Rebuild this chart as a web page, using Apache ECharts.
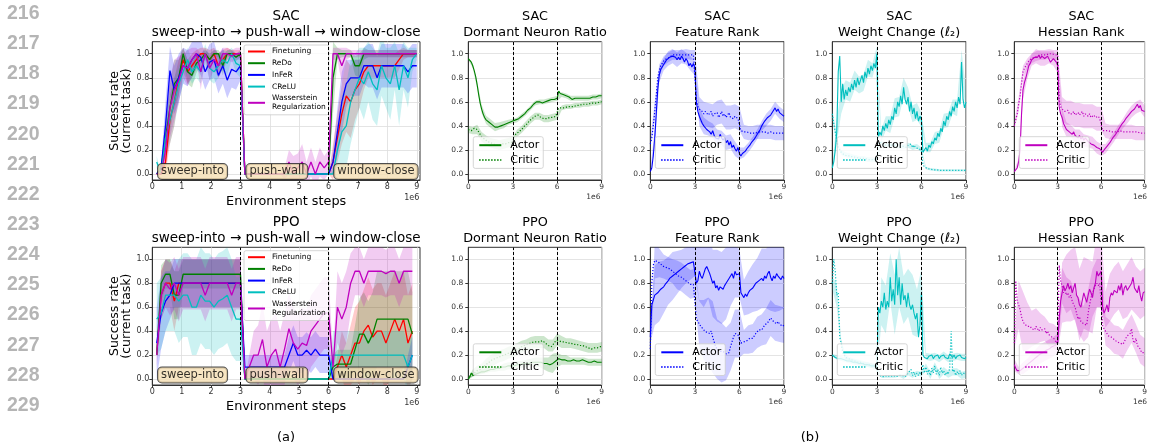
<!DOCTYPE html>
<html>
<head>
<meta charset="utf-8">
<script src="https://cdn.jsdelivr.net/npm/echarts@6/dist/echarts.min.js"></script>
<style>
html,body{margin:0;padding:0;background:#fff;}
#chart{width:1150px;height:444px;}
</style>
</head>
<body>
<div id="chart"></div>
<script>
// ---------------- data ----------------
// Success rate on the current task; SAC points every 0.15e6 steps from 0.15e6 to 9.0e6.
const SUCCESS_STEP = 0.15;
const SAC_FINETUNE = [0,0,0.1,0.45,0.6,0.8,0.95,0.85,0.9,0.95, 1,1,0.95,1,0.9,0.95,1,1,1,1,
  0,0,0,0,0,0,0,0,0,0, 0,0,0,0,0,0,0,0,0,0,
  0.1,0.3,0.5,0.65,0.6,0.7,0.75,0.85,0.9,0.9, 0.9,0.9,0.9,0.9,0.9,0.95,1,1,1,1];
const SAC_REDO = [0,0.05,0.3,0.55,0.75,0.8,1,0.85,0.82,0.92, 0.95,1,0.95,1,1,0.9,1,1,0.97,1,
  0,0,0,0,0,0,0,0,0,0, 0,0,0,0,0,0,0,0,0,0,
  0.8,1,1,1,1,0.9,0.9,1,1,1, 1,1,1,1,1,1,1,1,1,1];
const SAC_INFER = [0,0.05,0.4,0.86,0.7,0.8,0.9,0.88,0.95,1, 0.97,0.85,0.93,0.95,0.82,0.9,0.78,0.87,0.85,0.9,
  0,0,0,0,0,0,0,0,0,0, 0,0,0,0,0,0,0,0,0,0,
  0.1,0.35,0.6,0.75,0.8,0.8,0.8,0.9,0.9,0.9, 0.8,0.9,0.9,0.9,0.9,0.9,0.9,0.85,0.9,0.9];
const SAC_CRELU = [0.1,0,0.3,0.45,0.6,0.75,0.85,0.95,0.85,0.9, 0.85,1,0.88,0.85,0.9,0.95,0.92,1,0.92,0.9,
  0,0,0,0,0,0,0,0,0,0, 0,0,0,0,0,0,0,0,0,0,
  0,0.2,0.35,0.4,0.6,0.7,0.8,0.75,0.85,0.75, 0.7,0.9,0.8,0.75,0.9,0.7,0.9,0.8,0.95,1];
const SAC_WASS = [0,0,0.2,0.55,0.7,0.78,0.9,0.88,0.95,1, 0.85,1,0.88,0.95,0.9,1,1,0.98,1,1,
  0,0,0,0,0,0,0,0,0,0, 0.1,0,0.05,0.1,0,0.1,0,0.1,0.05,0.1,
  1,1,0.9,1,1,1,1,1,1,1, 1,1,1,1,1,1,1,1,1,1];
const SAC_FINETUNE_SD = [0,0,0.1,0.2,0.2,0.15,0.1,0.1,0.1,0.08, 0.05,0.05,0.08,0.05,0.1,0.08,0.05,0.03,0.03,0.03,
  0,0,0,0,0,0,0,0,0,0, 0,0,0,0,0,0,0,0,0,0,
  0.15,0.2,0.25,0.3,0.3,0.25,0.2,0.15,0.1,0.1, 0.1,0.1,0.1,0.1,0.1,0.08,0.05,0.03,0.03,0.03];
const SAC_REDO_SD = [0,0.05,0.15,0.2,0.2,0.15,0.05,0.1,0.1,0.08, 0.05,0.03,0.05,0.03,0.03,0.08,0.03,0.03,0.03,0.03,
  0,0,0,0,0,0,0,0,0,0, 0,0,0,0,0,0,0,0,0,0,
  0.3,0.05,0.03,0.03,0.03,0.08,0.1,0.05,0.03,0.03, 0.03,0.03,0.03,0.03,0.03,0.03,0.03,0.03,0.03,0.03];
const SAC_INFER_SD = [0,0.05,0.2,0.2,0.2,0.2,0.15,0.15,0.15,0.12, 0.15,0.15,0.15,0.15,0.15,0.15,0.15,0.15,0.15,0.12,
  0,0,0,0,0,0,0,0,0,0, 0,0,0,0,0,0,0,0,0,0,
  0.1,0.2,0.25,0.2,0.15,0.15,0.15,0.15,0.18,0.18, 0.18,0.18,0.18,0.18,0.18,0.18,0.18,0.18,0.18,0.18];
const SAC_CRELU_SD = [0.05,0,0.15,0.2,0.2,0.15,0.1,0.1,0.1,0.1, 0.1,0.08,0.1,0.1,0.1,0.08,0.1,0.05,0.08,0.1,
  0,0,0,0,0,0,0,0,0,0, 0,0,0,0,0,0,0,0,0,0,
  0,0.15,0.3,0.35,0.35,0.3,0.25,0.3,0.25,0.3, 0.3,0.25,0.25,0.3,0.2,0.3,0.2,0.25,0.1,0.05];
const SAC_WASS_SD = [0,0,0.15,0.25,0.25,0.2,0.1,0.15,0.1,0.05, 0.15,0.05,0.1,0.08,0.1,0.05,0.05,0.05,0.05,0.05,
  0,0,0,0,0,0,0,0,0,0.05, 0.1,0.15,0.12,0.15,0.1,0.12,0.1,0.12,0.1,0.1,
  0.05,0.05,0.15,0.05,0.03,0.03,0.03,0.03,0.03,0.03, 0.03,0.03,0.03,0.03,0.03,0.03,0.03,0.03,0.03,0.03];

// PPO points every 0.15e6 steps from 0.15e6 to 8.85e6.
const PPO_FINETUNE = [0.2,0.7,0.8,0.8,0.65,0.8,0.8,0.8,0.8,0.8, 0.8,0.8,0.8,0.8,0.8,0.8,0.8,0.8,0.8,0.8,
  0,0,0,0,0,0,0,0,0,0, 0,0,0,0,0,0,0,0,0,0,
  0,0.1,0.2,0.1,0.2,0.3,0.3,0.4,0.45,0.35, 0.4,0.4,0.3,0.4,0.5,0.4,0.5,0.3,0.4];
const PPO_REDO = [0.2,0.8,0.875,0.875,0.7,0.7,0.875,0.875,0.875,0.875, 0.875,0.875,0.875,0.875,0.875,0.875,0.875,0.875,0.875,0.875,
  0,0,0,0,0,0,0,0,0,0, 0,0,0,0,0,0,0,0,0,0,
  0.1,0.125,0.125,0.125,0.125,0.25,0.375,0.375,0.3,0.375, 0.5,0.5,0.5,0.5,0.5,0.5,0.5,0.5,0.375];
const PPO_INFER = [0.3,0.55,0.65,0.7,0.8,0.8,0.8,0.8,0.8,0.8, 0.8,0.8,0.8,0.8,0.8,0.8,0.8,0.8,0.8,0.8,
  0.1,0.1,0.1,0.1,0.1,0.1,0.1,0.1,0.1,0.1, 0.2,0.3,0.2,0.2,0.24,0.2,0.25,0.2,0.2,0.2,
  0,0,0,0,0,0,0,0,0,0, 0,0,0,0,0,0,0,0.1,0.2];
const PPO_CRELU = [0.5,0.55,0.7,0.7,0.7,0.65,0.7,0.7,0.6,0.6, 0.7,0.65,0.65,0.6,0.65,0.67,0.7,0.6,0.5,0.5,
  0,0,0,0,0,0,0,0,0,0, 0,0,0,0,0,0,0,0,0,0,
  0.2,0.2,0.2,0.2,0.2,0.2,0.2,0.2,0.2,0.2, 0.2,0.2,0.2,0.2,0.2,0.2,0.2,0.1,0.2];
const PPO_WASS = [0.2,0.7,0.8,0.75,0.8,0.7,0.8,0.8,0.8,0.8, 0.8,0.7,0.8,0.8,0.8,0.8,0.8,0.7,0.8,0.8,
  0,0.1,0.2,0.2,0.33,0.1,0.2,0.25,0.1,0.25, 0.42,0.3,0.25,0.3,0.28,0.4,0.45,0.5,0.55,0.55,
  0.1,0.6,0.5,0.6,0.8,0.9,0.9,0.8,0.9,0.9, 0.9,0.9,0.88,0.9,0.9,0.8,0.9,0.9,0.9];
const PPO_FINETUNE_SD = [0,0.2,0.2,0.2,0.25,0.2,0.2,0.2,0.2,0.2, 0.2,0.2,0.2,0.2,0.2,0.2,0.2,0.2,0.2,0.2,
  0,0,0,0,0,0,0,0,0,0, 0,0,0,0,0,0,0,0,0,0,
  0,0.1,0.2,0.2,0.25,0.3,0.35,0.35,0.4,0.4, 0.4,0.4,0.4,0.4,0.4,0.4,0.4,0.4,0.4];
const PPO_REDO_SD = [0,0.15,0.12,0.12,0.2,0.2,0.12,0.12,0.12,0.12, 0.12,0.12,0.12,0.12,0.12,0.12,0.12,0.12,0.12,0.12,
  0,0,0,0,0,0,0,0,0,0, 0,0,0,0,0,0,0,0,0,0,
  0.1,0.12,0.12,0.12,0.12,0.2,0.3,0.35,0.35,0.35, 0.4,0.4,0.4,0.4,0.4,0.4,0.4,0.4,0.35];
const PPO_INFER_SD = [0.3,0.3,0.25,0.2,0.2,0.2,0.2,0.2,0.2,0.2, 0.2,0.2,0.2,0.2,0.2,0.2,0.2,0.2,0.2,0.2,
  0.1,0.1,0.1,0.1,0.1,0.1,0.1,0.1,0.1,0.1, 0.15,0.15,0.15,0.15,0.15,0.15,0.15,0.15,0.15,0.15,
  0,0,0,0,0,0,0,0,0,0, 0,0,0,0,0,0,0,0.1,0.15];
const PPO_CRELU_SD = [0.3,0.3,0.3,0.3,0.3,0.35,0.35,0.35,0.4,0.4, 0.4,0.4,0.4,0.4,0.4,0.4,0.4,0.4,0.35,0.35,
  0,0,0,0,0,0,0,0,0,0, 0,0,0,0,0,0,0,0,0,0,
  0.2,0.2,0.2,0.2,0.2,0.2,0.2,0.2,0.2,0.2, 0.2,0.2,0.2,0.2,0.2,0.2,0.2,0.2,0.2];
const PPO_WASS_SD = [0.1,0.2,0.2,0.22,0.22,0.22,0.22,0.22,0.22,0.22, 0.22,0.22,0.22,0.22,0.22,0.22,0.22,0.22,0.22,0.22,
  0,0.1,0.2,0.25,0.3,0.3,0.3,0.3,0.3,0.3, 0.3,0.3,0.3,0.3,0.3,0.3,0.3,0.3,0.3,0.3,
  0.1,0.3,0.3,0.3,0.25,0.2,0.2,0.2,0.2,0.2, 0.2,0.2,0.2,0.2,0.2,0.2,0.2,0.2,0.2];

// Normalised network metrics; points every 0.1e6 steps from 0 to 9e6.
// Spreads are given every 0.3e6 steps.
const METRIC_STEP = 0.1;
const SPREAD_EVERY = 3;

const SAC_DORMANT_ACTOR = [0.96,0.95,0.93,0.90,0.86,0.81,0.74,0.66,0.59,0.54,
  0.50,0.47,0.45,0.44,0.43,0.42,0.41,0.40,0.39,0.39, 0.39,0.40,0.40,0.41,0.41,0.42,0.42,0.43,0.43,0.44,
  0.44,0.44,0.45,0.45,0.46,0.47,0.48,0.49,0.50,0.51, 0.53,0.54,0.55,0.56,0.58,0.59,0.60,0.60,0.60,0.60,
  0.59,0.60,0.60,0.61,0.61,0.61,0.62,0.62,0.62,0.63, 0.63,0.69,0.67,0.66,0.66,0.65,0.65,0.64,0.64,0.63,
  0.62,0.62,0.63,0.63,0.63,0.63,0.63,0.63,0.63,0.63, 0.63,0.63,0.63,0.63,0.64,0.64,0.64,0.64,0.65,0.65, 0.65];
const SAC_DORMANT_CRITIC = [0.37,0.37,0.36,0.36,0.38,0.39,0.37,0.35,0.33,0.31,
  0.30,0.29,0.28,0.27,0.27,0.26,0.25,0.25,0.25,0.24, 0.24,0.24,0.24,0.25,0.25,0.25,0.25,0.26,0.26,0.26,
  0.27,0.31,0.33,0.34,0.35,0.36,0.37,0.38,0.40,0.41, 0.42,0.44,0.45,0.46,0.47,0.48,0.49,0.49,0.48,0.47,
  0.47,0.46,0.46,0.46,0.46,0.47,0.47,0.47,0.48,0.48, 0.48,0.55,0.55,0.55,0.55,0.55,0.56,0.56,0.56,0.56,
  0.56,0.56,0.57,0.57,0.57,0.57,0.57,0.58,0.58,0.58, 0.58,0.58,0.59,0.59,0.59,0.59,0.59,0.59,0.60,0.60, 0.60];
const SAC_DORMANT_ACTOR_SD = [0.01,0.02,0.03,0.035,0.035,0.035,0.035,0.03,0.03,0.02,0.02,
  0.02,0.02,0.02,0.02,0.02,0.02,0.02,0.02,0.02,0.02, 0.02,0.02,0.02,0.02,0.02,0.02,0.02,0.02,0.02,0.02];
const SAC_DORMANT_CRITIC_SD = [0.03,0.03,0.04,0.04,0.04,0.04,0.04,0.04,0.04,0.04,0.04,
  0.03,0.03,0.03,0.03,0.03,0.03,0.03,0.03,0.03,0.03, 0.02,0.02,0.02,0.02,0.02,0.02,0.02,0.02,0.02,0.02];

const SAC_FEATURE_ACTOR = [0.02,0.05,0.15,0.30,0.50,0.70,0.82,0.87,0.89,0.91,
  0.93,0.95,0.96,0.97,0.96,0.98,0.99,0.97,0.95,0.97, 0.95,0.98,0.96,0.93,0.96,0.94,0.90,0.92,0.89,0.92,
  0.88,0.60,0.52,0.48,0.45,0.42,0.40,0.41,0.37,0.38, 0.35,0.33,0.36,0.32,0.30,0.31,0.29,0.33,0.30,0.28,
  0.30,0.26,0.28,0.24,0.27,0.22,0.24,0.21,0.19,0.22, 0.17,0.15,0.17,0.18,0.19,0.21,0.22,0.24,0.26,0.27,
  0.29,0.31,0.33,0.35,0.37,0.40,0.41,0.44,0.45,0.47, 0.46,0.49,0.50,0.53,0.55,0.52,0.54,0.51,0.50,0.49, 0.48];
const SAC_FEATURE_CRITIC = [0.25,0.30,0.40,0.52,0.65,0.80,0.86,0.90,0.92,0.94,
  0.95,0.96,0.97,0.97,0.98,0.99,1.00,0.99,0.99,0.99, 0.99,0.99,0.99,0.99,1.00,0.99,0.99,0.99,0.99,0.99,
  0.99,0.62,0.56,0.54,0.53,0.52,0.50,0.52,0.51,0.49, 0.50,0.52,0.48,0.50,0.49,0.51,0.47,0.49,0.52,0.48,
  0.50,0.47,0.49,0.51,0.47,0.48,0.46,0.48,0.47,0.46, 0.46,0.36,0.35,0.35,0.34,0.35,0.34,0.34,0.35,0.34,
  0.34,0.34,0.35,0.35,0.35,0.35,0.35,0.35,0.35,0.34, 0.35,0.35,0.34,0.34,0.34,0.34,0.34,0.34,0.34,0.34, 0.34];
const SAC_FEATURE_ACTOR_SD = [0.01,0.08,0.06,0.05,0.06,0.06,0.06,0.06,0.05,0.06,0.06,
  0.08,0.07,0.06,0.06,0.06,0.06,0.06,0.06,0.06,0.05, 0.04,0.04,0.04,0.04,0.04,0.05,0.05,0.05,0.05,0.05];
const SAC_FEATURE_CRITIC_SD = [0.03,0.08,0.05,0.04,0.04,0.04,0.04,0.04,0.04,0.04,0.04,
  0.1,0.1,0.1,0.1,0.1,0.1,0.1,0.1,0.1,0.1, 0.06,0.06,0.06,0.06,0.06,0.06,0.06,0.06,0.06,0.06];

const SAC_WEIGHT_ACTOR = [0.05,0.10,0.20,0.35,0.85,0.98,0.60,0.75,0.62,0.70,
  0.65,0.72,0.68,0.75,0.70,0.78,0.72,0.80,0.74,0.78, 0.82,0.76,0.85,0.80,0.88,0.83,0.90,0.86,0.92,0.88,
  1.00,0.30,0.35,0.32,0.40,0.36,0.42,0.38,0.45,0.41, 0.48,0.45,0.55,0.50,0.60,0.56,0.65,0.58,0.72,0.62,
  0.58,0.64,0.52,0.60,0.50,0.55,0.46,0.52,0.44,0.48, 0.45,0.18,0.20,0.22,0.19,0.24,0.22,0.27,0.25,0.30,
  0.28,0.34,0.31,0.38,0.35,0.44,0.40,0.48,0.45,0.52, 0.48,0.56,0.52,0.60,0.55,0.64,0.58,0.93,0.62,0.55, 0.60];
const SAC_WEIGHT_CRITIC = [0.50,0.42,0.35,0.28,0.22,0.20,0.18,0.17,0.16,0.16,
  0.15,0.15,0.15,0.14,0.14,0.14,0.14,0.13,0.13,0.13, 0.13,0.13,0.13,0.12,0.12,0.12,0.12,0.12,0.12,0.12,
  0.12,0.26,0.25,0.26,0.24,0.25,0.24,0.25,0.24,0.24, 0.24,0.23,0.24,0.23,0.24,0.23,0.23,0.24,0.23,0.23,
  0.22,0.24,0.23,0.25,0.22,0.24,0.22,0.23,0.21,0.22, 0.20,0.08,0.06,0.05,0.045,0.04,0.04,0.04,0.035,0.035,
  0.035,0.035,0.03,0.03,0.03,0.03,0.03,0.03,0.03,0.03, 0.03,0.03,0.03,0.03,0.03,0.03,0.03,0.03,0.03,0.03, 0.03];
const SAC_WEIGHT_ACTOR_SD = [0.02,0.1,0.1,0.08,0.08,0.08,0.07,0.07,0.07,0.06,0.06,
  0.05,0.06,0.07,0.08,0.08,0.08,0.08,0.07,0.07,0.06, 0.04,0.04,0.05,0.05,0.06,0.06,0.06,0.07,0.1,0.1];
const SAC_WEIGHT_CRITIC_SD = [0.05,0.03,0.02,0.02,0.02,0.02,0.02,0.02,0.02,0.02,0.02,
  0.02,0.02,0.02,0.02,0.02,0.02,0.02,0.02,0.02,0.02, 0.01,0.01,0.01,0.01,0.01,0.01,0.01,0.01,0.01,0.01];

const SAC_HESSIAN_ACTOR = [0.02,0.03,0.05,0.10,0.20,0.50,0.70,0.76,0.80,0.85,
  0.90,0.92,0.95,0.96,0.97,0.98,0.97,0.99,0.96,0.98, 0.99,0.96,0.95,0.98,0.97,0.93,0.92,0.96,0.97,0.93,
  0.90,0.56,0.50,0.47,0.42,0.41,0.37,0.38,0.35,0.36, 0.33,0.35,0.32,0.33,0.30,0.32,0.29,0.31,0.28,0.30,
  0.29,0.27,0.28,0.25,0.26,0.24,0.25,0.22,0.23,0.21, 0.20,0.18,0.20,0.21,0.23,0.24,0.26,0.27,0.30,0.31,
  0.33,0.34,0.37,0.38,0.41,0.42,0.44,0.46,0.47,0.49, 0.50,0.52,0.51,0.54,0.55,0.58,0.55,0.57,0.53,0.52, 0.52];
const SAC_HESSIAN_CRITIC = [0.40,0.45,0.50,0.58,0.65,0.75,0.85,0.88,0.90,0.92,
  0.94,0.95,0.96,0.97,0.97,0.98,0.98,0.98,0.99,0.99, 0.99,0.99,0.99,1.00,1.00,0.99,1.00,0.99,0.99,0.99,
  0.99,0.62,0.56,0.54,0.53,0.52,0.51,0.53,0.50,0.51, 0.50,0.52,0.49,0.50,0.51,0.49,0.50,0.52,0.48,0.50,
  0.49,0.48,0.50,0.47,0.48,0.49,0.47,0.46,0.48,0.46, 0.46,0.36,0.35,0.36,0.35,0.36,0.35,0.35,0.36,0.35,
  0.36,0.35,0.35,0.36,0.35,0.35,0.36,0.35,0.35,0.35, 0.35,0.35,0.34,0.35,0.34,0.35,0.34,0.34,0.34,0.34, 0.34];
const SAC_HESSIAN_ACTOR_SD = [0.01,0.03,0.08,0.06,0.05,0.06,0.06,0.06,0.05,0.06,0.06,
  0.08,0.06,0.05,0.05,0.05,0.05,0.05,0.05,0.05,0.05, 0.04,0.04,0.04,0.04,0.04,0.05,0.05,0.05,0.05,0.05];
const SAC_HESSIAN_CRITIC_SD = [0.03,0.06,0.05,0.04,0.04,0.04,0.04,0.04,0.04,0.04,0.04,
  0.1,0.1,0.1,0.1,0.1,0.1,0.1,0.1,0.1,0.1, 0.06,0.06,0.06,0.06,0.06,0.06,0.06,0.06,0.06,0.06];

const PPO_DORMANT_ACTOR = [0.00,0.02,0.05,0.03,0.04,0.04,0.05,0.05,0.05,0.06,
  0.06,0.06,0.07,0.07,0.07,0.08,0.08,0.08,0.08,0.09, 0.09,0.09,0.09,0.10,0.10,0.10,0.10,0.11,0.11,0.11,
  0.11,0.11,0.12,0.12,0.12,0.12,0.12,0.13,0.13,0.13, 0.13,0.13,0.14,0.14,0.14,0.14,0.14,0.14,0.14,0.14,
  0.13,0.13,0.14,0.13,0.12,0.12,0.13,0.13,0.14,0.15, 0.16,0.17,0.16,0.16,0.15,0.16,0.16,0.15,0.16,0.15,
  0.15,0.16,0.15,0.15,0.16,0.15,0.15,0.16,0.15,0.15, 0.14,0.14,0.15,0.14,0.14,0.15,0.14,0.14,0.15,0.14, 0.14];
const PPO_DORMANT_CRITIC = [0.00,0.02,0.04,0.05,0.05,0.06,0.07,0.07,0.08,0.09,
  0.10,0.11,0.12,0.13,0.14,0.15,0.16,0.16,0.17,0.18, 0.18,0.19,0.19,0.20,0.20,0.21,0.21,0.22,0.22,0.23,
  0.23,0.24,0.24,0.25,0.25,0.26,0.27,0.27,0.28,0.28, 0.29,0.29,0.30,0.30,0.31,0.31,0.31,0.32,0.31,0.32,
  0.32,0.31,0.30,0.29,0.28,0.27,0.27,0.28,0.30,0.32, 0.33,0.32,0.32,0.31,0.31,0.31,0.30,0.30,0.30,0.30,
  0.30,0.29,0.29,0.29,0.28,0.28,0.28,0.28,0.27,0.27, 0.27,0.26,0.25,0.25,0.26,0.26,0.26,0.26,0.27,0.27, 0.27];
const PPO_DORMANT_ACTOR_SD = [0.005,0.01,0.01,0.02,0.02,0.02,0.02,0.02,0.03,0.03,0.03,
  0.03,0.03,0.03,0.03,0.04,0.04,0.05,0.06,0.08,0.06, 0.04,0.04,0.03,0.03,0.03,0.03,0.03,0.03,0.03,0.03];
const PPO_DORMANT_CRITIC_SD = [0.005,0.03,0.04,0.04,0.05,0.05,0.05,0.05,0.05,0.05,0.05,
  0.05,0.05,0.05,0.05,0.05,0.05,0.05,0.05,0.05,0.05, 0.05,0.04,0.04,0.04,0.04,0.04,0.04,0.04,0.04,0.04];

const PPO_FEATURE_ACTOR = [0.35,0.62,0.66,0.70,0.69,0.72,0.73,0.75,0.76,0.77,
  0.79,0.80,0.82,0.84,0.85,0.86,0.87,0.88,0.89,0.90, 0.91,0.92,0.93,0.94,0.95,0.96,0.96,0.97,0.97,0.98,
  0.98,0.80,0.82,0.90,0.86,0.84,0.88,0.92,0.94,0.95, 0.88,0.84,0.80,0.82,0.76,0.78,0.74,0.77,0.76,0.75,
  0.78,0.80,0.79,0.84,0.86,0.88,0.84,0.90,0.87,0.86, 0.88,0.72,0.70,0.68,0.71,0.69,0.72,0.74,0.73,0.76,
  0.78,0.80,0.79,0.82,0.81,0.84,0.82,0.86,0.84,0.88, 0.90,0.85,0.82,0.86,0.84,0.88,0.86,0.85,0.83,0.86, 0.84];
const PPO_FEATURE_CRITIC = [0.25,0.80,0.95,0.99,1.00,0.98,0.97,0.96,0.95,0.94,
  0.94,0.93,0.92,0.92,0.91,0.90,0.89,0.88,0.87,0.86, 0.86,0.85,0.84,0.83,0.82,0.81,0.80,0.79,0.78,0.79,
  0.80,0.50,0.48,0.46,0.44,0.43,0.41,0.40,0.39,0.40, 0.38,0.40,0.35,0.31,0.27,0.25,0.24,0.23,0.22,0.23,
  0.22,0.21,0.20,0.22,0.27,0.31,0.35,0.38,0.38,0.37, 0.38,0.30,0.29,0.31,0.30,0.32,0.33,0.34,0.35,0.34,
  0.36,0.38,0.39,0.41,0.42,0.41,0.43,0.45,0.44,0.47, 0.49,0.51,0.50,0.48,0.47,0.46,0.48,0.46,0.45,0.44, 0.45];
const PPO_FEATURE_ACTOR_SD = [0.05,0.25,0.25,0.22,0.2,0.2,0.18,0.16,0.15,0.14,0.12,
  0.25,0.28,0.28,0.28,0.3,0.3,0.3,0.25,0.22,0.2, 0.15,0.18,0.2,0.22,0.25,0.25,0.28,0.28,0.28,0.25];
const PPO_FEATURE_CRITIC_SD = [0.05,0.15,0.12,0.1,0.1,0.1,0.12,0.12,0.12,0.12,0.12,
  0.2,0.25,0.28,0.3,0.25,0.25,0.22,0.2,0.2,0.2, 0.1,0.12,0.12,0.13,0.13,0.15,0.15,0.15,0.15,0.15];

const PPO_WEIGHT_ACTOR = [0.20,0.19,0.18,0.18,0.17,0.17,0.17,0.16,0.16,0.16,
  0.15,0.15,0.15,0.14,0.14,0.14,0.14,0.13,0.13,0.13, 0.13,0.12,0.12,0.12,0.12,0.11,0.11,0.11,0.11,0.11,
  0.10,0.60,0.55,0.65,0.60,0.72,0.58,0.65,0.60,0.85, 0.65,0.75,0.62,1.00,0.70,0.85,0.62,0.80,0.66,0.70,
  0.60,0.72,0.62,0.58,0.62,0.55,0.50,0.55,0.35,0.45, 0.72,0.20,0.18,0.19,0.17,0.19,0.18,0.20,0.17,0.19,
  0.18,0.20,0.17,0.19,0.18,0.20,0.18,0.19,0.17,0.21, 0.22,0.18,0.20,0.17,0.19,0.18,0.20,0.18,0.19,0.17, 0.18];
const PPO_WEIGHT_CRITIC = [0.80,1.00,0.90,0.70,0.72,0.35,0.30,0.22,0.20,0.18,
  0.17,0.17,0.16,0.16,0.15,0.15,0.15,0.14,0.14,0.14, 0.13,0.13,0.13,0.12,0.12,0.12,0.12,0.11,0.11,0.11,
  0.11,0.04,0.03,0.02,0.03,0.02,0.02,0.03,0.02,0.02, 0.02,0.03,0.02,0.02,0.02,0.03,0.02,0.03,0.02,0.02,
  0.03,0.05,0.04,0.08,0.03,0.06,0.02,0.05,0.03,0.06, 0.04,0.12,0.05,0.10,0.04,0.08,0.03,0.09,0.05,0.11,
  0.04,0.08,0.03,0.10,0.05,0.07,0.03,0.06,0.04,0.09, 0.40,0.06,0.08,0.03,0.06,0.04,0.07,0.03,0.05,0.04, 0.04];
const PPO_WEIGHT_ACTOR_SD = [0.01,0.02,0.02,0.02,0.02,0.02,0.02,0.02,0.02,0.02,0.02,
  0.2,0.2,0.2,0.25,0.25,0.2,0.2,0.25,0.2,0.2, 0.03,0.03,0.03,0.03,0.03,0.03,0.03,0.03,0.03,0.03];
const PPO_WEIGHT_CRITIC_SD = [0.05,0.1,0.03,0.02,0.02,0.02,0.02,0.02,0.02,0.02,0.02,
  0.01,0.01,0.01,0.01,0.01,0.02,0.02,0.02,0.02,0.02, 0.03,0.03,0.03,0.03,0.03,0.03,0.03,0.03,0.03,0.03];

const PPO_HESSIAN_ACTOR = [0.12,0.09,0.07,0.07,0.07,0.08,0.09,0.10,0.11,0.12,
  0.13,0.14,0.15,0.16,0.17,0.18,0.19,0.20,0.21,0.22, 0.22,0.23,0.24,0.25,0.25,0.26,0.27,0.27,0.28,0.28,
  0.30,0.50,0.65,0.72,0.78,0.74,0.76,0.80,0.75,0.78, 0.72,0.76,0.80,0.70,0.68,0.62,0.60,0.66,0.72,0.68,
  0.64,0.70,0.75,0.72,0.68,0.76,0.80,0.90,0.86,0.88, 0.90,0.60,0.55,0.58,0.62,0.56,0.68,0.72,0.70,0.74,
  0.75,0.72,0.78,0.74,0.80,0.70,0.76,0.78,0.74,0.76, 0.75,0.80,0.85,0.76,0.74,0.72,0.78,0.70,0.65,0.72, 0.73];
const PPO_HESSIAN_CRITIC = [0.30,0.82,0.65,0.62,0.58,0.52,0.48,0.46,0.45,0.44,
  0.43,0.44,0.42,0.43,0.41,0.44,0.42,0.40,0.43,0.41, 0.40,0.42,0.38,0.40,0.37,0.38,0.35,0.36,0.33,0.30,
  0.33,0.95,0.82,0.78,0.72,0.74,0.70,0.72,0.68,0.70, 0.65,0.62,0.60,0.55,0.50,0.52,0.48,0.47,0.46,0.45,
  0.45,0.55,0.62,0.68,0.72,0.75,0.78,0.80,0.78,0.80, 0.80,0.44,0.42,0.40,0.38,0.36,0.37,0.35,0.34,0.33,
  0.33,0.31,0.32,0.30,0.30,0.29,0.31,0.34,0.36,0.35, 0.38,0.42,0.32,0.30,0.34,0.28,0.27,0.25,0.22,0.23, 0.22];
const PPO_HESSIAN_ACTOR_SD = [0.05,0.03,0.05,0.05,0.06,0.07,0.08,0.08,0.08,0.08,0.08,
  0.25,0.28,0.3,0.3,0.3,0.3,0.3,0.3,0.3,0.3, 0.15,0.2,0.2,0.2,0.2,0.22,0.22,0.2,0.2,0.2];
const PPO_HESSIAN_CRITIC_SD = [0.05,0.2,0.25,0.2,0.15,0.15,0.12,0.1,0.1,0.1,0.1,
  0.15,0.15,0.12,0.12,0.15,0.15,0.2,0.2,0.2,0.2, 0.12,0.12,0.12,0.12,0.12,0.12,0.12,0.12,0.12,0.12];

// Labels and ticks
const METHOD_NAMES = ['Finetuning', 'ReDo', 'InFeR', 'CReLU', 'Wasserstein\nRegularization'];
const METHOD_COLORS = ['#ff0000', '#008000', '#0000ff', '#00bfbf', '#bf00bf'];
const TASK_NAMES = ['sweep-into', 'push-wall', 'window-close'];
const TASK_SWITCHES = [3, 6];
const Y_TICKS = [0, 0.2, 0.4, 0.6, 0.8, 1.0];
const SUCCESS_X_TICKS = [0, 1, 2, 3, 4, 5, 6, 7, 8, 9];
const LINE_NUMBERS = ['216','217','218','219','220','221','222','223','224','225','226','227','228','229'];

// ---------------- layout ----------------
const FONT = 'DejaVu Sans';
const ROW_TOP = [41.7, 247.3];
const ROW_HEIGHT = [138.3, 137.7];
const COL_LEFT = [152.3, 468.3, 650.3, 832.3, 1014.3];
const COL_WIDTH = [267.7, 133.4, 133.7, 133.7, 134];
const TITLE_Y = [24.2, 230.5];
const METRIC_LEGEND_TOP = [136.7, 343.8];
const SUCCESS_LEGEND_TOP = [45, 250.7];
const TASK_LABEL_X = [1.37, 4.24, 7.61];
const TASK_LABEL_Y = [0.021, 0.033];

const grids = [], xAxes = [], yAxes = [], series = [], legends = [], texts = [];
const LABELS = {};

function rgba(hex, a) {
  const n = parseInt(hex.slice(1), 16);
  return `rgba(${(n >> 16) & 255},${(n >> 8) & 255},${n & 255},${a})`;
}

function text(x, y, str, size, opts) {
  texts.push(Object.assign({
    type: 'text', x: x, y: y, silent: true, z: 100,
    style: Object.assign({
      text: str, fontSize: size, fontFamily: FONT, fill: '#000',
      align: 'center', verticalAlign: 'middle'
    }, (opts && opts.style) || {})
  }, (opts && opts.el) || {}));
}

function addGrid(row, col, success) {
  const gi = grids.length;
  grids.push({
    left: COL_LEFT[col], top: ROW_TOP[row], width: COL_WIDTH[col], height: ROW_HEIGHT[row],
    show: true, borderColor: '#333', borderWidth: 1, backgroundColor: 'transparent'
  });
  const tickFont = success ? 8 : 7.5;
  const xa = {
    gridIndex: gi, type: 'value', min: 0, max: success ? 9.11 : 9, interval: success ? 1 : 3,
    axisLine: { show: true, onZero: false, lineStyle: { color: '#333', width: 1 } },
    axisTick: { show: true, length: 3, lineStyle: { color: '#333' } },
    axisLabel: { fontSize: tickFont, color: '#333', margin: 3, fontFamily: FONT },
    splitLine: { show: true, lineStyle: { color: '#dddddd', width: 0.8 } }
  };
  if (success) {
    xa.axisTick.customValues = SUCCESS_X_TICKS;
    xa.axisLabel.customValues = SUCCESS_X_TICKS;
  }
  xAxes.push(xa);
  yAxes.push({
    gridIndex: gi, type: 'value', min: -0.05, max: 1.1,
    axisLine: { show: true, onZero: false, lineStyle: { color: '#333', width: 1 } },
    axisTick: { show: true, length: 3, customValues: Y_TICKS, lineStyle: { color: '#333' } },
    axisLabel: {
      customValues: Y_TICKS, fontSize: tickFont, color: '#333', fontFamily: FONT,
      margin: success ? 3 : 5, formatter: v => v.toFixed(1)
    },
    splitLine: { show: true, lineStyle: { color: '#dddddd', width: 0.8 } }
  });
  return gi;
}

// shaded mean ± spread region, drawn as one polygon through the axis scales
function addBand(gi, xs, ys, spread, every, color) {
  const pts = spread.map((s, j) => {
    const i = j * every;
    return [xs[i], ys[i] - s, ys[i] + s];
  });
  series.push({
    type: 'custom', xAxisIndex: gi, yAxisIndex: gi, silent: true, clip: true, z: 1,
    data: pts, encode: { x: 0, y: [1, 2] },
    renderItem: function (params, api) {
      if (params.dataIndex !== 0) return null;
      const upper = pts.map(p => api.coord([p[0], p[2]]));
      const lower = pts.map(p => api.coord([p[0], p[1]])).reverse();
      return { type: 'polygon', shape: { points: upper.concat(lower) }, style: { fill: color }, silent: true };
    }
  });
}

function addLine(gi, name, xs, ys, color, dash, width, withSwitches) {
  const s = {
    type: 'line', name: name, xAxisIndex: gi, yAxisIndex: gi,
    data: xs.map((x, i) => [x, ys[i]]),
    showSymbol: false, symbol: 'none', z: 3,
    lineStyle: { color: color, width: width, type: dash },
    itemStyle: { color: color }
  };
  if (withSwitches) {
    s.markLine = {
      silent: true, symbol: 'none', label: { show: false }, animation: false,
      lineStyle: { color: '#000', type: [3, 2], width: 1 },
      data: TASK_SWITCHES.map(v => ({ xAxis: v }))
    };
  }
  series.push(s);
}

function addSuccessPanel(row, key, title, lines, spreads) {
  const gi = addGrid(row, 0, true);
  const xs = lines[0].map((_, i) => +(SUCCESS_STEP * (i + 1)).toFixed(2));
  lines.forEach((ys, k) => addBand(gi, xs, ys, spreads[k], 1, rgba(METHOD_COLORS[k], 0.2)));
  const names = [];
  lines.forEach((ys, k) => {
    const name = key + '-' + k;
    LABELS[name] = METHOD_NAMES[k];
    names.push(name);
    addLine(gi, name, xs, ys, METHOD_COLORS[k], 'solid', 1.3, k === 0);
  });
  // task name tags at the bottom of each phase
  series.push({
    type: 'scatter', xAxisIndex: gi, yAxisIndex: gi, silent: true, z: 6,
    symbolSize: 1, itemStyle: { color: 'rgba(0,0,0,0)' },
    data: TASK_NAMES.map((t, k) => [TASK_LABEL_X[k], TASK_LABEL_Y[row], t]),
    label: {
      show: true, position: 'inside', formatter: p => p.value[2],
      fontSize: 11.5, fontFamily: FONT, color: '#000',
      backgroundColor: '#f5deb3', borderColor: '#222', borderWidth: 1, borderRadius: 4,
      padding: [2, 3, 1, 3]
    }
  });
  legends.push({
    orient: 'vertical', left: 244, top: SUCCESS_LEGEND_TOP[row], data: names,
    formatter: n => LABELS[n], selectedMode: false,
    backgroundColor: 'rgba(255,255,255,0.8)', borderColor: '#cccccc', borderWidth: 0.8, borderRadius: 2,
    padding: [2, 3, 3, 3], itemGap: 2.7, itemWidth: 17, itemHeight: 6,
    itemStyle: { opacity: 0 },
    textStyle: { fontSize: 7.5, lineHeight: 9, fontFamily: FONT, color: '#000', padding: [0, 0, 0, 2] }
  });
  const cx = COL_LEFT[0] + COL_WIDTH[0] / 2;
  const bottom = ROW_TOP[row] + ROW_HEIGHT[row];
  text(cx, TITLE_Y[row], title, 13.5, { style: { lineHeight: 16 } });
  text(cx, bottom + 21.5, 'Environment steps', 12.8);
  text(COL_LEFT[0] + COL_WIDTH[0] - 8.3, bottom + 17.8, '1e6', 8, { style: { fill: '#333' } });
  text(121, ROW_TOP[row] + ROW_HEIGHT[row] / 2, 'Success rate\n(current task)', 12.5,
    { style: { lineHeight: 12 }, el: { rotation: Math.PI / 2 } });
}

function addMetricPanel(p) {
  const gi = addGrid(p.row, p.col, false);
  const xs = p.actor.map((_, i) => +(i * METRIC_STEP).toFixed(2));
  addBand(gi, xs, p.actor, p.actorSpread, SPREAD_EVERY, rgba(p.color, 0.2));
  addBand(gi, xs, p.critic, p.criticSpread, SPREAD_EVERY, rgba(p.color, 0.2));
  const an = p.key + '-actor', cn = p.key + '-critic';
  LABELS[an] = 'Actor';
  LABELS[cn] = 'Critic';
  addLine(gi, an, xs, p.actor, p.color, 'solid', 1.1, true);
  addLine(gi, cn, xs, p.critic, p.color, [1.2, 1.8], 1.2, false);
  legends.push({
    orient: 'vertical', left: COL_LEFT[p.col] + 5, top: METRIC_LEGEND_TOP[p.row], data: [an, cn],
    formatter: n => LABELS[n], selectedMode: false,
    backgroundColor: 'rgba(255,255,255,0.8)', borderColor: '#cccccc', borderWidth: 0.8, borderRadius: 2,
    padding: [3, 4, 3, 5], itemGap: 3.7, itemWidth: 22, itemHeight: 10,
    itemStyle: { opacity: 0 },
    textStyle: { fontSize: 11, fontFamily: FONT, color: '#000', padding: [0, 0, 0, 4] }
  });
  const cx = COL_LEFT[p.col] + COL_WIDTH[p.col] / 2;
  const bottom = ROW_TOP[p.row] + ROW_HEIGHT[p.row];
  text(cx, TITLE_Y[p.row], p.title, 12.8, { style: { lineHeight: 16 } });
  text(COL_LEFT[p.col] + COL_WIDTH[p.col] - 8.3, bottom + 17.5, '1e6', 7.5, { style: { fill: '#333' } });
}

// ---------------- build ----------------
addSuccessPanel(0, 'sac', 'SAC\nsweep-into \u2192 push-wall \u2192 window-close',
  [SAC_FINETUNE, SAC_REDO, SAC_INFER, SAC_CRELU, SAC_WASS],
  [SAC_FINETUNE_SD, SAC_REDO_SD, SAC_INFER_SD, SAC_CRELU_SD, SAC_WASS_SD]);
addSuccessPanel(1, 'ppo', 'PPO\nsweep-into \u2192 push-wall \u2192 window-close',
  [PPO_FINETUNE, PPO_REDO, PPO_INFER, PPO_CRELU, PPO_WASS],
  [PPO_FINETUNE_SD, PPO_REDO_SD, PPO_INFER_SD, PPO_CRELU_SD, PPO_WASS_SD]);

const METRIC_TITLES = ['Dormant Neuron Ratio', 'Feature Rank', 'Weight Change (\u2113\u2082)', 'Hessian Rank'];
const METRIC_COLORS = ['#008000', '#0000ff', '#00bfbf', '#bf00bf'];
const METRIC_PANELS = [
  [SAC_DORMANT_ACTOR, SAC_DORMANT_CRITIC, SAC_DORMANT_ACTOR_SD, SAC_DORMANT_CRITIC_SD],
  [SAC_FEATURE_ACTOR, SAC_FEATURE_CRITIC, SAC_FEATURE_ACTOR_SD, SAC_FEATURE_CRITIC_SD],
  [SAC_WEIGHT_ACTOR, SAC_WEIGHT_CRITIC, SAC_WEIGHT_ACTOR_SD, SAC_WEIGHT_CRITIC_SD],
  [SAC_HESSIAN_ACTOR, SAC_HESSIAN_CRITIC, SAC_HESSIAN_ACTOR_SD, SAC_HESSIAN_CRITIC_SD],
  [PPO_DORMANT_ACTOR, PPO_DORMANT_CRITIC, PPO_DORMANT_ACTOR_SD, PPO_DORMANT_CRITIC_SD],
  [PPO_FEATURE_ACTOR, PPO_FEATURE_CRITIC, PPO_FEATURE_ACTOR_SD, PPO_FEATURE_CRITIC_SD],
  [PPO_WEIGHT_ACTOR, PPO_WEIGHT_CRITIC, PPO_WEIGHT_ACTOR_SD, PPO_WEIGHT_CRITIC_SD],
  [PPO_HESSIAN_ACTOR, PPO_HESSIAN_CRITIC, PPO_HESSIAN_ACTOR_SD, PPO_HESSIAN_CRITIC_SD]
];
METRIC_PANELS.forEach((d, k) => {
  const row = Math.floor(k / 4), m = k % 4;
  addMetricPanel({
    key: (row ? 'ppo' : 'sac') + '-m' + m, row: row, col: m + 1,
    title: (row ? 'PPO' : 'SAC') + '\n' + METRIC_TITLES[m], color: METRIC_COLORS[m],
    actor: d[0], critic: d[1], actorSpread: d[2], criticSpread: d[3]
  });
});

// margin line numbers and sub-figure captions
LINE_NUMBERS.forEach((n, k) => {
  text(7, 13.7 + 30.13 * k, n, 19.5, {
    style: { align: 'left', fill: '#b5b5b5', fontWeight: 'bold', fontFamily: 'Liberation Sans' }
  });
});
text(286, 437.7, '(a)', 13);
text(810, 437.7, '(b)', 13);

const chart = echarts.init(document.getElementById('chart'), null, { renderer: 'canvas' });
chart.setOption({
  animation: false,
  backgroundColor: '#ffffff',
  textStyle: { fontFamily: FONT },
  grid: grids,
  xAxis: xAxes,
  yAxis: yAxes,
  legend: legends,
  series: series,
  graphic: { elements: texts }
});
</script>
</body>
</html>
